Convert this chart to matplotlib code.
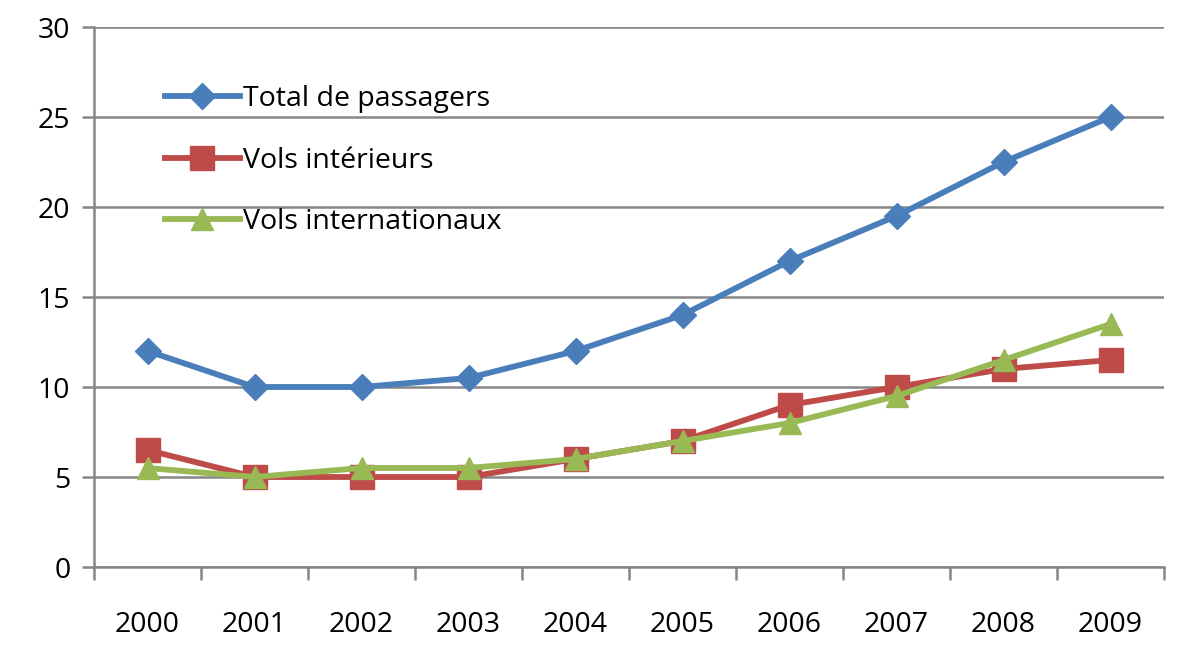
import matplotlib
matplotlib.use("Agg")
import matplotlib.pyplot as plt
from matplotlib.ticker import FixedLocator, NullFormatter

years = ["2000", "2001", "2002", "2003", "2004", "2005", "2006", "2007", "2008", "2009"]
total = [12, 10, 10, 10.5, 12, 14, 17, 19.5, 22.5, 25]
interieurs = [6.5, 5, 5, 5, 6, 7, 9, 10, 11, 11.5]
internationaux = [5.5, 5, 5.5, 5.5, 6, 7, 8, 9.5, 11.5, 13.5]

plt.rcParams['font.family'] = ['Open Sans', 'DejaVu Sans']

fig = plt.figure(figsize=(12, 6.53), dpi=100)
ax = fig.add_axes([94/1200, 1-567/653, 1070/1200, 540/653])

x = list(range(len(years)))
ax.plot(x, total, color='#4A7EBB', lw=4.2, marker='D', ms=13.5, label='Total de passagers', zorder=3)
ax.plot(x, interieurs, color='#BE4B48', lw=4.2, marker='s', ms=17, label='Vols intérieurs', zorder=3)
ax.plot(x, internationaux, color='#98B954', lw=4.2, marker='^', ms=16, label='Vols internationaux', zorder=4)

ax.set_xlim(-0.5, len(years)-0.5)
ax.set_ylim(0, 30)
ax.set_yticks([0, 5, 10, 15, 20, 25, 30])
ax.yaxis.grid(True, color='#868686', lw=1.8)
ax.set_axisbelow(True)

ax.xaxis.set_major_locator(FixedLocator([i-0.5 for i in range(len(years)+1)]))
ax.xaxis.set_major_formatter(NullFormatter())
ax.xaxis.set_minor_locator(FixedLocator(x))
ax.set_xticklabels(years, minor=True)
ax.tick_params(axis='x', which='major', length=9, width=1.8, color='#868686', direction='out')
ax.tick_params(axis='x', which='minor', length=0, pad=32, labelsize=20.5)
ax.tick_params(axis='y', length=9, width=1.8, color='#868686', labelsize=20.5, pad=8)

for s in ['top', 'right']:
    ax.spines[s].set_visible(False)
for s in ['left', 'bottom']:
    ax.spines[s].set_color('#868686')
    ax.spines[s].set_linewidth(1.8)

leg = ax.legend(loc='upper left', bbox_to_anchor=(0.066, 0.892), frameon=False,
                fontsize=20.5, handlelength=2.65, handletextpad=0.1, labelspacing=1.17,
                borderpad=0, borderaxespad=0)

fig.savefig('out.png', dpi=100, facecolor='white')
